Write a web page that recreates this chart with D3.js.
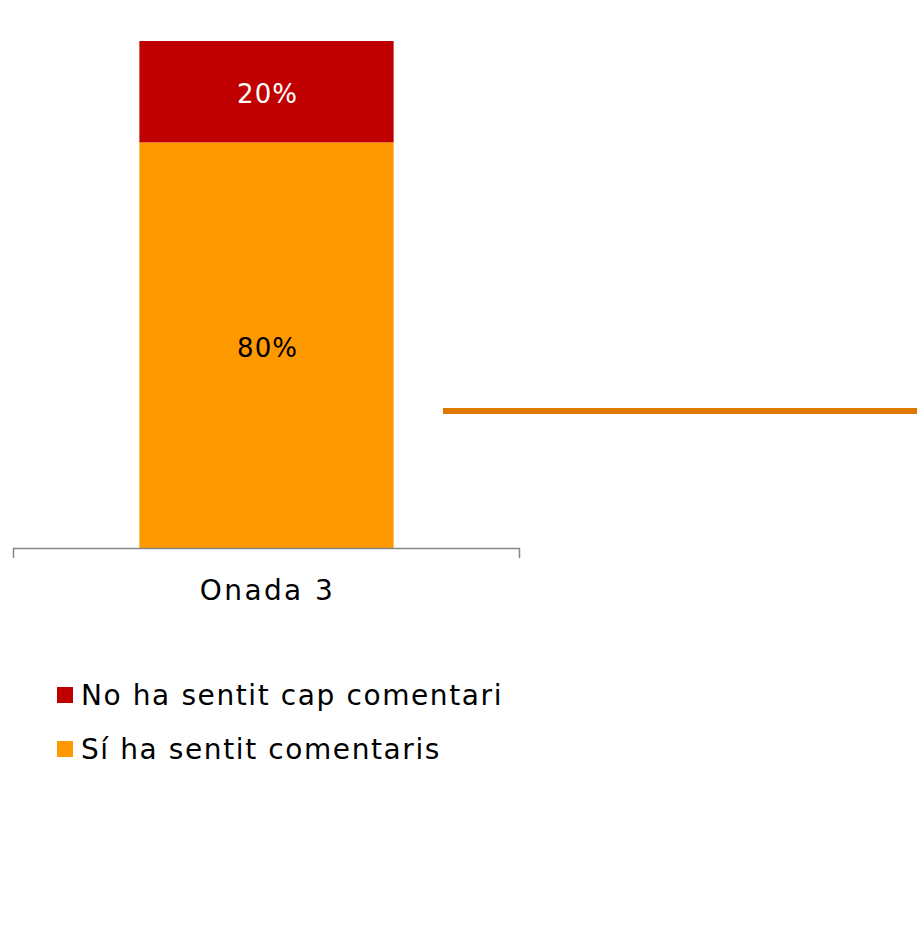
<!DOCTYPE html>
<html lang="ca">
<head>
    <meta charset="UTF-8">
    <title>Onada 3</title>
    <style>
        html,body {
            margin : 0px;
            padding: 0px;
            background: #fff;
        }
        text { font-family: "DejaVu Sans", sans-serif; }
    </style>
    <script src="https://cdn.jsdelivr.net/npm/d3@7"></script>
</head>
<body>
<svg></svg>
<script>
    // data
    const categories = ['Onada 3']
    const seriesNames = ['Sí ha sentit comentaris', 'No ha sentit cap comentari']
    const seriesColors = ['#FF9900', '#C00000']
    const labelColors = ['#000', '#fff']
    const siValues = [0.80]
    const noValues = [0.20]
    const legendOrder = [1, 0]   // legend lists "No" first

    const W = 917, H = 933

    const svg = d3.select('svg')
        .attr('width', W)
        .attr('height', H)

    const x = d3.scaleBand().domain(categories).range([13, 520])
        .paddingInner(0.332).paddingOuter(0.332)
    const y = d3.scaleLinear().domain([0, 1]).range([548, 41])

    const rows = categories.map((c, i) => ({ cat: c, 0: siValues[i], 1: noValues[i] }))
    const stacked = d3.stack().keys([0, 1])(rows)

    const barGrp = svg.append('g')
    stacked.forEach((layer, k) => {
        barGrp.selectAll('.bar' + k).data(layer).enter()
            .append('rect')
            .attr('x', d => x(d.data.cat))
            .attr('width', x.bandwidth())
            .attr('y', d => y(d[1]))
            .attr('height', d => y(d[0]) - y(d[1]))
            .attr('fill', seriesColors[k])

        barGrp.selectAll('.lab' + k).data(layer).enter()
            .append('text')
            .attr('x', d => x(d.data.cat) + x.bandwidth() / 2 + 1)
            .attr('y', d => (y(d[0]) + y(d[1])) / 2 + 2)
            .attr('dy', '0.36em')
            .attr('text-anchor', 'middle')
            .style('font-size', '26px')
            .style('letter-spacing', '1px')
            .attr('fill', labelColors[k])
            .text(d => d3.format('.0%')(d[1] - d[0]))
    })

    // category axis
    const axis = svg.append('g')
    axis.append('path')
        .attr('d', `M${x.range()[0] + 0.5},558V548.5H${x.range()[1] - 0.5}V558`)
        .attr('fill', 'none')
        .attr('stroke', '#868686')
        .attr('stroke-width', 1.5)
    axis.selectAll('text').data(categories).enter()
        .append('text')
        .attr('x', d => x(d) + x.bandwidth() / 2 + 1)
        .attr('y', 600)
        .attr('text-anchor', 'middle')
        .style('font-size', '28px')
        .style('letter-spacing', '2.4px')
        .attr('fill', '#000')
        .text(d => d)

    // orange rule on the right
    svg.append('line')
        .attr('x1', 443).attr('x2', W)
        .attr('y1', 411).attr('y2', 411)
        .attr('stroke', '#E07800')
        .attr('stroke-width', 6)

    // legend
    const legend = svg.append('g').attr('transform', 'translate(57,687)')
    const item = legend.selectAll('g').data(legendOrder).enter()
        .append('g')
        .attr('transform', (d, i) => `translate(0,${i * 54})`)
    item.append('rect')
        .attr('width', 16).attr('height', 16)
        .attr('fill', d => seriesColors[d])
    item.append('text')
        .attr('x', 24)
        .attr('y', 8)
        .attr('dy', '0.36em')
        .style('font-size', '28px')
        .style('letter-spacing', '1.6px')
        .attr('fill', '#000')
        .text(d => seriesNames[d])
</script>
</body>
</html>
